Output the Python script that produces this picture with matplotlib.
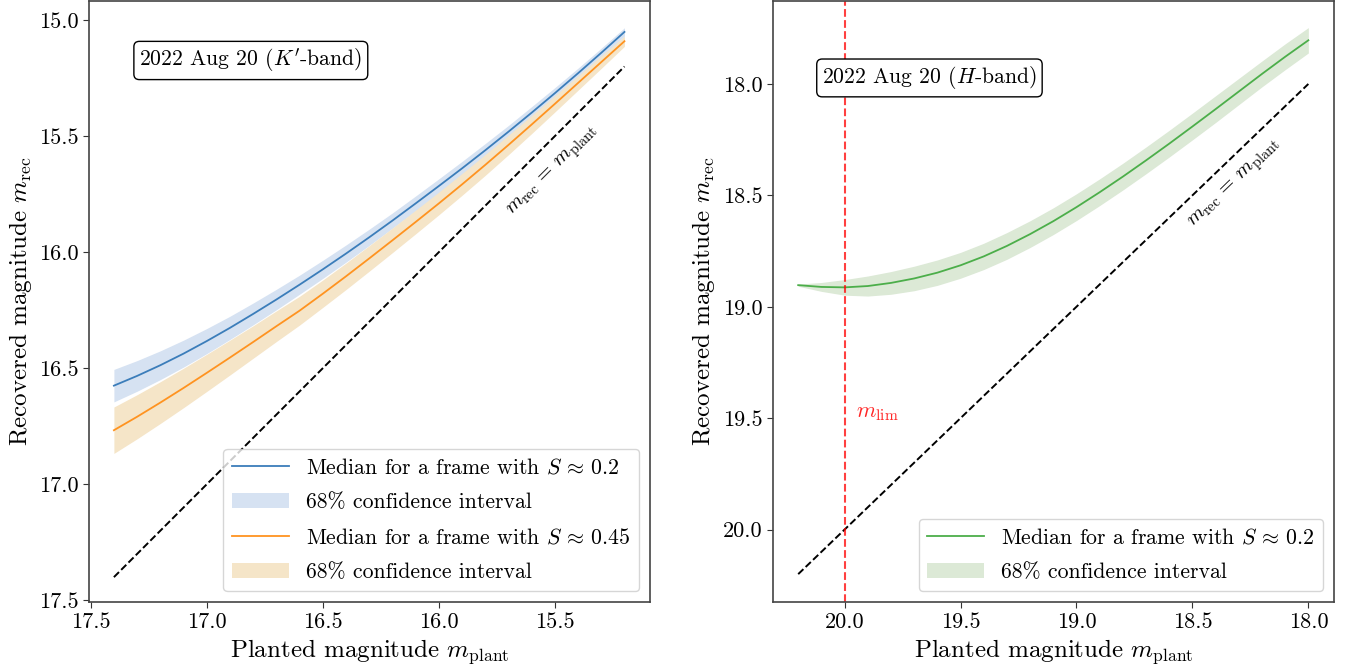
import matplotlib
matplotlib.use("Agg")
import matplotlib.pyplot as plt
import numpy as np

plt.rcParams["font.family"] = "serif"
plt.rcParams["font.serif"] = ["cmr10"]
plt.rcParams["mathtext.fontset"] = "cm"
plt.rcParams["axes.formatter.use_mathtext"] = True

# K'-band: planted vs recovered magnitude, two Strehl levels
k_plant = [17.4, 17.3, 17.2, 17.1, 17.0, 16.9, 16.8, 16.7, 16.6, 16.5, 16.4, 16.3,
           16.2, 16.1, 16.0, 15.9, 15.8, 15.7, 15.6, 15.5, 15.4, 15.3, 15.2]
k_med_02 = [16.575, 16.533, 16.487, 16.437, 16.383, 16.326, 16.266, 16.204, 16.14, 16.074, 16.006, 15.936,
            15.864, 15.79, 15.715, 15.639, 15.561, 15.481, 15.399, 15.315, 15.229, 15.141, 15.051]
k_err_02 = [0.07, 0.066, 0.062, 0.058, 0.054, 0.05, 0.047, 0.044, 0.041, 0.039, 0.037, 0.035,
            0.033, 0.032, 0.031, 0.03, 0.029, 0.027, 0.026, 0.024, 0.022, 0.02, 0.018]
k_med_045 = [16.767, 16.709, 16.648, 16.585, 16.52, 16.454, 16.387, 16.319, 16.252, 16.179, 16.104, 16.027,
             15.949, 15.87, 15.79, 15.708, 15.624, 15.538, 15.45, 15.361, 15.271, 15.181, 15.091]
k_err_045 = [0.1, 0.095, 0.09, 0.085, 0.08, 0.075, 0.07, 0.066, 0.062, 0.059, 0.057, 0.055,
             0.053, 0.051, 0.049, 0.047, 0.045, 0.042, 0.039, 0.035, 0.031, 0.027, 0.022]

# H-band
h_plant = [20.2, 20.1, 20.0, 19.9, 19.8, 19.7, 19.6, 19.5, 19.4, 19.3, 19.2, 19.1,
           19.0, 18.9, 18.8, 18.7, 18.6, 18.5, 18.4, 18.3, 18.2, 18.1, 18.0]
h_med = [18.903, 18.911, 18.913, 18.907, 18.893, 18.873, 18.847, 18.814, 18.774, 18.727, 18.674, 18.616,
         18.553, 18.486, 18.416, 18.343, 18.268, 18.191, 18.113, 18.034, 17.955, 17.878, 17.804]
h_err = [0.005, 0.02, 0.035, 0.045, 0.051, 0.055, 0.057, 0.058, 0.059, 0.06, 0.06, 0.06,
         0.06, 0.06, 0.06, 0.06, 0.06, 0.06, 0.06, 0.059, 0.058, 0.058, 0.057]
m_lim = 20.0

k_ticks = [17.5, 17.0, 16.5, 16.0, 15.5]
k_yticks = [15.0, 15.5, 16.0, 16.5, 17.0, 17.5]
h_ticks = [20.0, 19.5, 19.0, 18.5, 18.0]
h_yticks = [18.0, 18.5, 19.0, 19.5, 20.0]

fig = plt.figure(figsize=(13.53, 6.64), dpi=100)
ax1 = fig.add_axes([0.066, 0.0934, 0.4144, 0.905])
ax2 = fig.add_axes([0.5711, 0.0934, 0.4151, 0.905])

box = dict(boxstyle="round,pad=0.25", fc="white", ec="black", lw=1.0)
ident = r"$m_{\rm rec} \,=\, m_{\rm plant}$"

# left panel
km02, ke02 = np.array(k_med_02), np.array(k_err_02)
km45, ke45 = np.array(k_med_045), np.array(k_err_045)
ax1.fill_between(k_plant, km02 - ke02, km02 + ke02, color="#d6e2f2", lw=0, label="68% confidence interval")
ax1.fill_between(k_plant, km45 - ke45, km45 + ke45, color="#f5e5c8", lw=0, label="68% confidence interval")
ax1.plot(k_plant, k_med_02, color="#3b7dba", lw=1.3, label=r"Median for a frame with $S \,\approx\, 0.2$")
ax1.plot(k_plant, k_med_045, color="#ff9320", lw=1.3, label=r"Median for a frame with $S \,\approx\, 0.45$")
ax1.plot([k_plant[0], k_plant[-1]], [k_plant[0], k_plant[-1]], "k--", lw=1.4)
ax1.text(15.507, 15.65, ident, rotation=45, fontsize=15, ha="center", va="center")
ax1.text(16.81, 15.174, r"2022 Aug 20 ($K'$-band)", fontsize=15.6, ha="center", va="center", bbox=box)
ax1.set_xlim(17.506, 15.09)
ax1.set_ylim(17.507, 14.918)
ax1.set_xticks(k_ticks)
ax1.set_yticks(k_yticks)
ax1.set_xticklabels([f"{t:.1f}" for t in k_ticks])
ax1.set_yticklabels([f"{t:.1f}" for t in k_yticks])
ax1.set_xlabel(r"Planted magnitude $m_{\rm plant}$", fontsize=18)
ax1.set_ylabel(r"Recovered magnitude $m_{\rm rec}$", fontsize=18)
h, l = ax1.get_legend_handles_labels()
order = [2, 0, 3, 1]
ax1.legend([h[i] for i in order], [l[i] for i in order], loc="lower right", fontsize=15.7,
           handlelength=2.6, labelspacing=0.7)

# right panel
hm, he = np.array(h_med), np.array(h_err)
ax2.fill_between(h_plant, hm - he, hm + he, color="#dce9d6", lw=0, label="68% confidence interval")
ax2.plot(h_plant, h_med, color="#4cae4a", lw=1.3, label=r"Median for a frame with $S \,\approx\, 0.2$")
ax2.plot([h_plant[0], h_plant[-1]], [h_plant[0], h_plant[-1]], "k--", lw=1.4)
ax2.axvline(m_lim, color="red", ls="--", lw=1.5, alpha=0.75)
ax2.text(19.95, 19.48, r"$m_{\rm lim}$", color="red", alpha=0.85, fontsize=16, ha="left", va="center")
ax2.text(18.316, 18.45, ident, rotation=44, fontsize=15, ha="center", va="center")
ax2.text(19.634, 17.973, r"2022 Aug 20 ($H$-band)", fontsize=15.6, ha="center", va="center", bbox=box)
ax2.set_xlim(20.31, 17.888)
ax2.set_ylim(20.325, 17.628)
ax2.set_xticks(h_ticks)
ax2.set_yticks(h_yticks)
ax2.set_xticklabels([f"{t:.1f}" for t in h_ticks])
ax2.set_yticklabels([f"{t:.1f}" for t in h_yticks])
ax2.set_xlabel(r"Planted magnitude $m_{\rm plant}$", fontsize=18)
ax2.set_ylabel(r"Recovered magnitude $m_{\rm rec}$", fontsize=18)
h, l = ax2.get_legend_handles_labels()
ax2.legend([h[1], h[0]], [l[1], l[0]], loc="lower right", fontsize=15.7, handlelength=2.6,
           labelspacing=0.7)

for ax in (ax1, ax2):
    ax.tick_params(labelsize=16, length=4, color="#333333")
    for s in ax.spines.values():
        s.set_color("#444444")
        s.set_linewidth(1.2)

fig.savefig("out.png", dpi=100)
